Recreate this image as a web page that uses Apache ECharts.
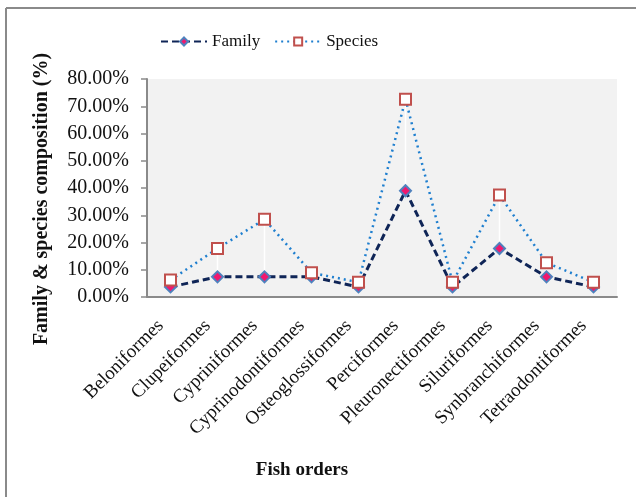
<!DOCTYPE html>
<html><head><meta charset="utf-8">
<script src="https://cdn.jsdelivr.net/npm/echarts@6/dist/echarts.min.js"></script>
<style>html,body{margin:0;padding:0;background:#fff}#c{width:636px;height:497px}</style>
</head><body><div id="c"></div>
<script>
var categories = ['Beloniformes','Clupeiformes','Cypriniformes','Cyprinodontiformes','Osteoglossiformes','Perciformes','Pleuronectiformes','Siluriformes','Synbranchiformes','Tetraodontiformes'];
var family = [3.7, 7.4, 7.4, 7.4, 3.7, 39.0, 3.7, 17.8, 7.4, 3.7];
var species = [6.2, 17.8, 28.5, 8.9, 5.4, 72.6, 5.4, 37.4, 12.6, 5.4];
var yTicks = [0, 10, 20, 30, 40, 50, 60, 70, 80];

var serif = '"Liberation Serif", "DejaVu Serif", serif';
var chart = echarts.init(document.getElementById('c'), null, {renderer: 'canvas'});
chart.setOption({
  animation: false,
  textStyle: {fontFamily: serif},
  graphic: [
    {type: 'line', shape: {x1: 6, y1: 8, x2: 6, y2: 497}, style: {stroke: '#8a8a8a', lineWidth: 2}},
    {type: 'line', shape: {x1: 6, y1: 8, x2: 636, y2: 8}, style: {stroke: '#8a8a8a', lineWidth: 2}},
    {type: 'text', x: 42, y: 199, rotation: Math.PI / 2,
      style: {text: 'Family & species composition (%)', fontFamily: serif, fontSize: 20, fontWeight: 'bold',
        fill: '#111', textAlign: 'center', textVerticalAlign: 'middle'}},
    {type: 'text', x: 302, y: 470,
      style: {text: 'Fish orders', fontFamily: serif, fontSize: 19, fontWeight: 'bold',
        fill: '#111', textAlign: 'center', textVerticalAlign: 'middle'}}
  ],
  legend: {
    top: 28, left: 155,
    itemWidth: 46, itemHeight: 10, itemGap: 14,
    textStyle: {fontFamily: serif, fontSize: 17, color: '#111'},
    data: ['Family', 'Species']
  },
  grid: {left: 147, right: 19, top: 79, bottom: 200, backgroundColor: '#f2f2f2', show: true, borderWidth: 0},
  xAxis: {
    type: 'category', data: categories, boundaryGap: true,
    axisLine: {lineStyle: {color: '#8a8a8a', width: 2}},
    axisTick: {show: false},
    axisLabel: {rotate: 45, fontFamily: serif, fontSize: 19, color: '#111', margin: 16, interval: 0,
      padding: [0, 14, 0, 0]}
  },
  yAxis: {
    type: 'value', min: yTicks[0], max: yTicks[yTicks.length - 1], interval: 10,
    axisLine: {show: true, lineStyle: {color: '#8a8a8a', width: 2}},
    axisTick: {show: true, inside: false, length: 6, lineStyle: {color: '#8a8a8a', width: 1.5}},
    splitLine: {show: false},
    axisLabel: {fontFamily: serif, fontSize: 20, color: '#111', margin: 18,
      formatter: function (v) { return v.toFixed(2) + '%'; }}
  },
  series: [
    {
      type: 'custom', name: 'hilo', silent: true, z: 1,
      data: categories.map(function (c, i) { return [i, family[i], species[i]]; }),
      renderItem: function (params, api) {
        var p1 = api.coord([api.value(0), api.value(1)]);
        var p2 = api.coord([api.value(0), api.value(2)]);
        return {type: 'line', shape: {x1: p1[0], y1: p1[1], x2: p2[0], y2: p2[1]},
          style: {stroke: '#ffffff', lineWidth: 1.5}};
      }
    },
    {
      name: 'Family', type: 'line', data: family, z: 3,
      symbol: 'diamond', symbolSize: 11,
      lineStyle: {color: '#0f2557', width: 3, type: [7, 4]},
      itemStyle: {color: '#f0186e', borderColor: '#4f81bd', borderWidth: 2}
    },
    {
      name: 'Species', type: 'line', data: species, z: 4,
      symbol: 'rect', symbolSize: 11,
      lineStyle: {color: '#1f7fcf', width: 2.5, type: [2, 4]},
      itemStyle: {color: '#ffffff', borderColor: '#c0504d', borderWidth: 2}
    }
  ]
});
</script></body></html>
